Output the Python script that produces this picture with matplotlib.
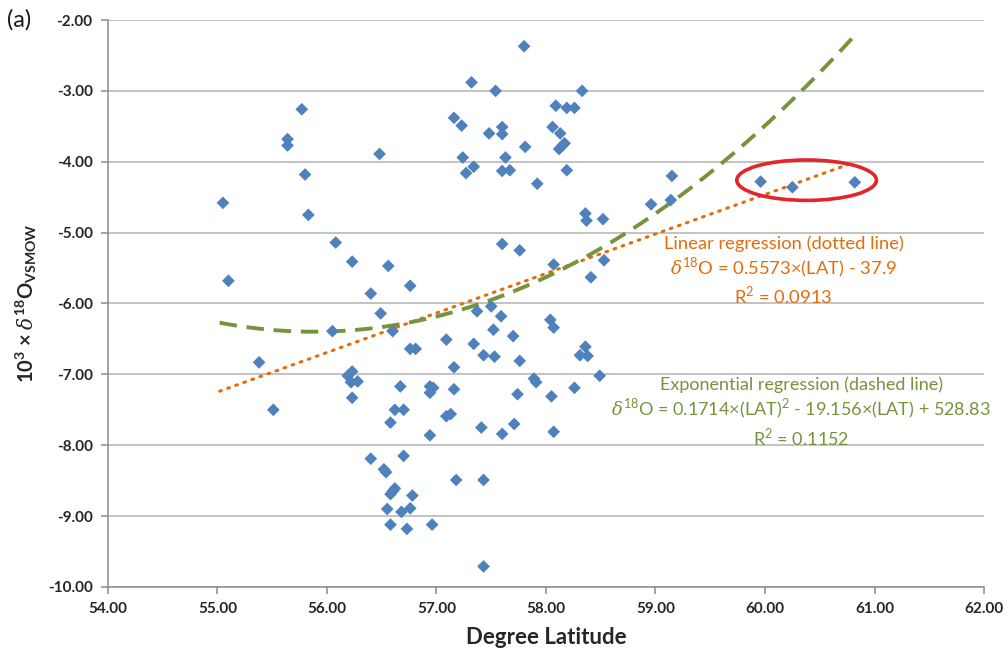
import numpy as np
import matplotlib.pyplot as plt
from matplotlib.patches import Ellipse

plt.rcParams["font.family"] = ["Lato", "DejaVu Sans"]
plt.rcParams["mathtext.fontset"] = "custom"
plt.rcParams["mathtext.rm"] = "Lato"
plt.rcParams["mathtext.it"] = "DejaVu Serif:italic"
plt.rcParams["mathtext.bf"] = "Lato:bold"

# latitude (deg) and delta-18O (per mil) of each sample
lat = [
    55.77, 55.64, 55.64, 55.80, 55.83, 55.05, 55.10, 56.08, 56.05, 55.38,
    55.51, 57.80, 57.32, 57.54, 58.33, 57.16, 57.23, 58.09, 58.19, 58.26,
    57.60, 57.48, 57.60, 58.06, 58.13, 58.17, 58.15, 58.12, 57.81, 56.48,
    57.24, 57.63, 57.34, 57.27, 57.60, 57.67, 58.19, 57.92, 59.15, 59.14,
    58.96, 58.36, 58.37, 58.52, 56.23, 56.56, 56.40, 56.76, 56.49, 57.60,
    57.76, 58.07, 58.53, 58.41, 57.37, 57.50, 57.59, 58.04, 56.60, 57.52,
    58.07, 57.70, 57.09, 57.34, 56.76, 56.81, 57.43, 57.53, 57.76, 58.31,
    58.36, 58.38, 57.16, 56.23, 56.19, 56.22, 56.28, 56.23, 57.89, 57.91,
    58.49, 56.67, 56.94, 56.97, 56.94, 57.16, 57.74, 58.26, 58.05, 56.62,
    56.70, 56.58, 57.09, 57.13, 57.41, 57.71, 57.60, 56.94, 58.07, 56.40,
    56.52, 56.54, 56.70, 57.18, 57.43, 56.62, 56.60, 56.58, 56.78, 56.55,
    56.68, 56.76, 56.58, 56.73, 56.96, 57.43, 59.96, 60.25, 60.82,
]
d18o = [
    -3.26, -3.68, -3.77, -4.18, -4.75, -4.58, -5.68, -5.14, -6.39, -6.83,
    -7.50, -2.37, -2.88, -3.00, -3.00, -3.38, -3.49, -3.21, -3.24, -3.24,
    -3.51, -3.60, -3.61, -3.51, -3.60, -3.74, -3.77, -3.82, -3.79, -3.89,
    -3.94, -3.94, -4.07, -4.16, -4.13, -4.12, -4.12, -4.31, -4.20, -4.54,
    -4.60, -4.73, -4.83, -4.81, -5.41, -5.47, -5.86, -5.75, -6.14, -5.16,
    -5.25, -5.45, -5.39, -5.63, -6.11, -6.04, -6.18, -6.23, -6.39, -6.37,
    -6.34, -6.46, -6.51, -6.57, -6.64, -6.64, -6.73, -6.75, -6.81, -6.73,
    -6.61, -6.74, -6.90, -6.96, -7.02, -7.11, -7.10, -7.33, -7.06, -7.11,
    -7.02, -7.17, -7.17, -7.19, -7.26, -7.21, -7.28, -7.19, -7.31, -7.50,
    -7.50, -7.68, -7.59, -7.56, -7.75, -7.70, -7.84, -7.86, -7.81, -8.19,
    -8.34, -8.38, -8.15, -8.49, -8.49, -8.61, -8.65, -8.69, -8.71, -8.90,
    -8.94, -8.89, -9.12, -9.18, -9.12, -9.71, -4.28, -4.36, -4.29,
]

# fitted trend coefficients
lin_slope, lin_icpt = 0.5573, -37.9
quad_a, quad_b, quad_c = 0.1714, -19.156, 528.83
fit_range = (55.02, 60.82)

blue = "#4F81BD"
orange = "#E46C0A"
green = "#77933C"

fig = plt.figure(figsize=(10.08, 6.56), dpi=100)
ax = fig.add_axes([0.1071, 0.1052, 0.8691, 0.8643])

xs = np.linspace(fit_range[0], fit_range[1], 200)
ax.plot(xs, lin_slope * xs + lin_icpt, color=orange, lw=2.2,
        linestyle=(0, (0.6, 2.2)), dash_capstyle="round", zorder=3)
ax.plot(xs, quad_a * xs**2 + quad_b * xs + quad_c, color=green, lw=2.8,
        linestyle=(0, (4.5, 2.5)), zorder=3)
ax.scatter(lat, d18o, marker="D", s=42, color=blue, edgecolors="none", zorder=4)

ax.add_patch(Ellipse((60.38, -4.26), 1.275, 0.57, fill=False,
                     edgecolor="#E3262B", lw=2.6, zorder=5))

ax.set_xlim(54, 62)
ax.set_ylim(-10, -2)
ax.set_xticks(np.arange(54, 62.1, 1))
ax.set_yticks(np.arange(-10, -1.9, 1))
ax.xaxis.set_major_formatter(plt.FormatStrFormatter("%.2f"))
ax.yaxis.set_major_formatter(plt.FormatStrFormatter("%.2f"))
ax.grid(axis="y", color="#BEBEBE", lw=1.3)
ax.set_axisbelow(True)
for s in ("top", "right"):
    ax.spines[s].set_visible(False)
for s in ("left", "bottom"):
    ax.spines[s].set_color("#8C8C8C")
    ax.spines[s].set_linewidth(1.1)
ax.tick_params(direction="out", length=5, width=1.1, color="#8C8C8C",
               labelsize=11, labelcolor="#262626", pad=6)
for t in ax.get_xticklabels() + ax.get_yticklabels():
    t.set_fontweight("bold")

ax.set_xlabel("Degree Latitude", fontsize=16, fontweight="bold",
              color="#262626", labelpad=8)
ax.set_ylabel(r"10$^{\mathbf{3}}$ × $\delta^{\mathbf{18}}$O$_{\mathbf{VSMOW}}$",
              fontsize=14.5, fontweight="bold", color="#262626", labelpad=6)

fig.text(0.007, 0.97, "(a)", fontsize=17, color="#1a1a1a", va="center")

ax.text(60.17, -5.54, "Linear regression (dotted line)\n"
        r"$\delta^{18}$O = 0.5573×(LAT) - 37.9" "\n"
        r"R$^2$ = 0.0913", color=orange, fontsize=13.2, ha="center",
        va="center", linespacing=1.22)
ax.text(60.33, -7.53, "Exponential regression (dashed line)\n"
        r"$\delta^{18}$O = 0.1714×(LAT)$^2$ - 19.156×(LAT) + 528.83" "\n"
        r"R$^2$ = 0.1152", color=green, fontsize=13, ha="center",
        va="center", linespacing=1.25)

fig.savefig("out.png", dpi=100)
